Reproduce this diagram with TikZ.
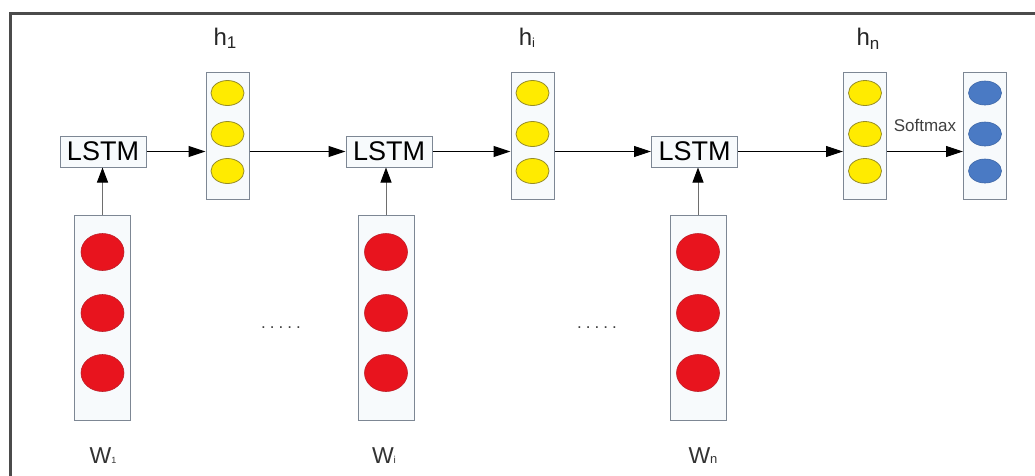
\documentclass[tikz,border=0pt]{standalone}
\usepackage{fontspec}
\setmainfont{Liberation Sans}
\usetikzlibrary{arrows.meta,shapes.geometric}
\definecolor{boxline}{RGB}{125,135,148}
\definecolor{boxfill}{RGB}{247,250,252}
\definecolor{yel}{RGB}{255,235,0}
\definecolor{yelline}{RGB}{150,140,40}
\definecolor{redc}{RGB}{232,20,30}
\definecolor{redline}{RGB}{190,30,40}
\definecolor{bluec}{RGB}{74,122,196}
\definecolor{framec}{RGB}{75,75,75}
\definecolor{stem}{RGB}{110,110,110}
\tikzset{
 vecbox/.style={draw=boxline, fill=boxfill, line width=1pt, minimum width=43pt, minimum height=127pt, inner sep=0pt},
 wbox/.style={vecbox, minimum width=56pt, minimum height=205pt},
 lstmbox/.style={draw=boxline, fill=boxfill, line width=1pt, minimum width=86pt, minimum height=31pt, inner sep=0pt, font=\fontsize{27}{27}\selectfont},
 ycirc/.style={ellipse, draw=yelline, fill=yel, line width=0.8pt, minimum width=33pt, minimum height=25pt, inner sep=0pt},
 rcirc/.style={ellipse, draw=redline, fill=redc, line width=0.6pt, minimum width=43pt, minimum height=37pt, inner sep=0pt},
 bcirc/.style={ellipse, draw=bluec!85!black, fill=bluec, line width=0.6pt, minimum width=33pt, minimum height=24pt, inner sep=0pt},
 arr/.style={-{Triangle[length=17pt,width=11pt]}, line width=1pt, black},
 uparr/.style={-{Triangle[length=15pt,width=11pt,color=black]}, line width=1pt, draw=stem},
 hlab/.style={anchor=base, font=\fontsize{24}{24}\selectfont, text=black!85},
 wlab/.style={anchor=base, font=\fontsize{23}{23}\selectfont, text=black!80},
 dots/.style={anchor=base, font=\fontsize{17}{17}\selectfont, text=black!75},
}
\begin{document}
\begin{tikzpicture}[x=1pt,y={(0pt,-1pt)}]
\useasboundingbox (0,0) rectangle (1035,475);
\clip (0,0) rectangle (1035,475);
\fill[white] (0,0) rectangle (1035,475);
\draw[framec, line width=3pt] (10,495) -- (10,13) -- (1050,13);

% LSTM cells
\node[lstmbox] (l1) at (103,151.5) {LSTM};
\node[lstmbox] (l2) at (389,151.5) {LSTM};
\node[lstmbox] (l3) at (694.5,151.5) {LSTM};

% hidden and output vectors
\node[vecbox] (h1) at (227.5,135.5) {};
\node[vecbox] (hi) at (532.5,135.5) {};
\node[vecbox] (hn) at (865,135.5) {};
\node[vecbox] (out) at (985,135.5) {};
\foreach \n/\x in {h1/227.5,hi/532.5,hn/865}{
  \node[ycirc] (\n-a) at (\x,93) {};
  \node[ycirc] (\n-b) at (\x,134) {};
  \node[ycirc] (\n-c) at (\x,171) {};
}
\node[bcirc] (out-a) at (985,93) {};
\node[bcirc] (out-b) at (985,134) {};
\node[bcirc] (out-c) at (985,171) {};

% word vectors
\node[wbox] (w1) at (102.5,317.5) {};
\node[wbox] (wi) at (386,317.5) {};
\node[wbox] (wn) at (698,317.5) {};
\foreach \n/\x in {w1/102.5,wi/386,wn/698}{
  \node[rcirc] (\n-a) at (\x,252) {};
  \node[rcirc] (\n-b) at (\x,313) {};
  \node[rcirc] (\n-c) at (\x,373) {};
}

% labels
\node[hlab] (lh1) at (225,45) {h\raisebox{-0.3ex}{\fontsize{17}{17}\selectfont 1}};
\node[hlab] (lhi) at (527,45) {h\raisebox{-0.2ex}{\fontsize{13}{13}\selectfont i}};
\node[hlab] (lhn) at (868,45) {h\raisebox{-0.35ex}{\fontsize{17}{17}\selectfont n}};
\node[wlab] (lw1) at (103,463) {W\fontsize{9}{9}\selectfont 1};
\node[wlab] (lwi) at (384,463) {W\fontsize{10}{10}\selectfont i};
\node[wlab] (lwn) at (703,463) {W\fontsize{13}{13}\selectfont n};
\node[dots] (d1) at (281,328) {.\hspace{4pt}.\hspace{4pt}.\hspace{4pt}.\hspace{4pt}.};
\node[dots] (d2) at (597,328) {.\hspace{4pt}.\hspace{4pt}.\hspace{4pt}.\hspace{4pt}.};

% connectors
\draw[arr] (l1.east) -- (l1.east -| h1.west);
\draw[arr] (h1.east |- l2.west) -- (l2.west);
\draw[arr] (l2.east) -- (l2.east -| hi.west);
\draw[arr] (hi.east |- l3.west) -- (l3.west);
\draw[arr] (l3.east) -- (l3.east -| hn.west);
\draw[arr] (hn.east |- l3.east) -- (l3.east -| out.west)
  node[midway, anchor=base, yshift=20pt, font=\fontsize{17}{17}\selectfont, text=black!75] (sm) {Softmax};
\draw[uparr] (w1.north) -- (w1.north |- l1.south);
\draw[uparr] (wi.north) -- (wi.north |- l2.south);
\draw[uparr] (wn.north) -- (wn.north |- l3.south);
\end{tikzpicture}
\end{document}
